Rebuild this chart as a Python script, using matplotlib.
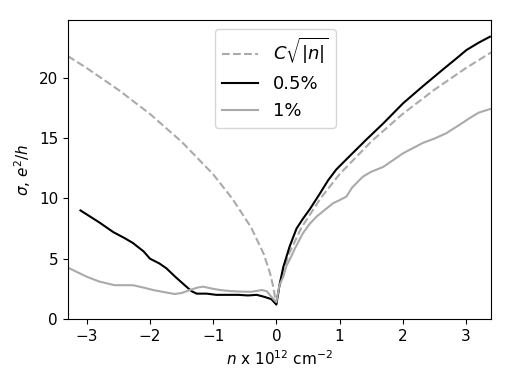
import matplotlib
matplotlib.use("Agg")
import matplotlib.pyplot as plt

# C*sqrt(|n|) reference curve
n_fit = [-3.3, -3.0, -2.5, -2.0, -1.5, -1.0, -0.7, -0.4, -0.2, -0.1, -0.05, 0.0,
         0.05, 0.1, 0.2, 0.4, 0.7, 1.0, 1.5, 2.0, 2.5, 3.0, 3.4]
s_fit = [21.8, 20.8, 19.0, 17.0, 14.7, 12.0, 10.0, 7.6, 5.4, 3.8, 2.7, 1.2,
         2.7, 3.8, 5.4, 7.6, 10.0, 12.0, 14.7, 17.0, 19.0, 20.8, 22.1]

# 0.5 % disorder
n_05 = [-3.1, -2.8, -2.58, -2.4, -2.27, -2.1, -2.0, -1.85, -1.74, -1.6, -1.45, -1.34,
        -1.26, -1.1, -0.95, -0.79, -0.6, -0.45, -0.31, -0.2, -0.08, 0.0, 0.05, 0.11,
        0.21, 0.32, 0.42, 0.53, 0.69, 0.82, 0.95, 1.16, 1.43, 1.69, 2.01, 2.32, 2.64,
        2.85, 3.01, 3.2, 3.38]
s_05 = [9.0, 8.0, 7.2, 6.7, 6.3, 5.6, 5.0, 4.6, 4.2, 3.5, 2.8, 2.3,
        2.1, 2.1, 2.0, 2.0, 2.0, 1.95, 2.0, 1.85, 1.65, 1.2, 2.8, 4.3,
        6.0, 7.5, 8.3, 9.1, 10.4, 11.5, 12.4, 13.5, 14.9, 16.2, 17.9, 19.3, 20.7,
        21.6, 22.3, 22.9, 23.4]

# 1 % disorder
n_1 = [-3.3, -3.0, -2.8, -2.56, -2.4, -2.27, -2.1, -1.95, -1.75, -1.61, -1.5, -1.37,
       -1.25, -1.16, -1.0, -0.89, -0.74, -0.58, -0.4, -0.23, -0.15, -0.08, 0.0, 0.05,
       0.11, 0.16, 0.21, 0.3, 0.42, 0.53, 0.64, 0.78, 0.9, 1.0, 1.11, 1.2, 1.37, 1.5,
       1.69, 2.01, 2.32, 2.5, 2.69, 2.9, 3.06, 3.2, 3.38]
s_1 = [4.26, 3.5, 3.1, 2.8, 2.8, 2.8, 2.6, 2.4, 2.2, 2.07, 2.15, 2.4,
       2.6, 2.68, 2.5, 2.4, 2.32, 2.27, 2.25, 2.4, 2.3, 1.85, 1.4, 2.8,
       3.5, 4.4, 4.9, 5.9, 7.1, 7.9, 8.5, 9.1, 9.6, 9.85, 10.15, 10.9, 11.8, 12.2,
       12.6, 13.75, 14.6, 14.95, 15.4, 16.1, 16.65, 17.1, 17.4]

plt.rcParams["font.size"] = 11

fig = plt.figure(figsize=(5.1, 3.82), dpi=100)
ax = fig.add_axes([0.133, 0.165, 0.83, 0.783])

ax.plot(n_fit, s_fit, "--", color="#aaaaaa", lw=1.5, label=r"$C\sqrt{|n|}$")
ax.plot(n_05, s_05, color="black", lw=1.5, label="0.5%")
ax.plot(n_1, s_1, color="#aaaaaa", lw=1.5, label="1%")

ax.set_xlim(-3.3, 3.4)
ax.set_ylim(0, 24.8)
ax.set_xticks([-3, -2, -1, 0, 1, 2, 3])
ax.set_yticks([0, 5, 10, 15, 20])
ax.set_xlabel(r"$n$ x $10^{12}$ cm$^{-2}$")
ax.set_ylabel(r"$\sigma$, $e^2/h$")
ax.legend(loc="upper center", fontsize=13, bbox_to_anchor=(0.49, 1.0))

fig.savefig("out.png", dpi=100)
